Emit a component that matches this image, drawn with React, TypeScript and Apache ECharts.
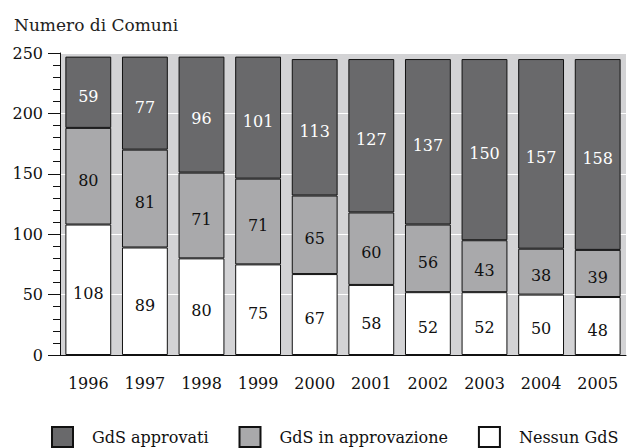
import React, { useEffect, useRef } from "react";
import * as echarts from "echarts";

const years = ["1996", "1997", "1998", "1999", "2000", "2001", "2002", "2003", "2004", "2005"];
const approvati = [59, 77, 96, 101, 113, 127, 137, 150, 157, 158];
const inApprovazione = [80, 81, 71, 71, 65, 60, 56, 43, 38, 39];
const nessun = [108, 89, 80, 75, 67, 58, 52, 52, 50, 48];
const seriesNames = ["GdS approvati", "GdS in approvazione", "Nessun GdS"];
const yTitle = "Numero di Comuni";

const FONT = "DejaVu Serif";

export default function App() {
  const ref = useRef<HTMLDivElement>(null);
  useEffect(() => {
    if (!ref.current) return;
    const chart = echarts.init(ref.current, undefined, { renderer: "svg" });
    const barBase = {
      type: "bar" as const,
      stack: "total",
      barWidth: "81%",
      label: {
        show: true,
        position: "inside" as const,
        fontSize: 16,
        fontFamily: FONT,
        color: "#111",
        offset: [0, 4],
      },
    };
    chart.setOption({
      animation: false,
      backgroundColor: "#ffffff",
      textStyle: { fontFamily: FONT },
      title: {
        text: yTitle,
        left: 9,
        top: 11,
        textStyle: { fontSize: 17, fontWeight: "normal", color: "#222", fontFamily: FONT },
      },
      legend: {
        data: seriesNames,
        left: 46,
        top: 421,
        width: 580,
        itemWidth: 21,
        itemHeight: 20,
        itemGap: 30,
        icon: "rect",
        textStyle: {
          fontSize: 16,
          fontFamily: FONT,
          color: "#111",
          padding: [0, 0, 0, 14],
        },
      },
      grid: {
        left: 60,
        right: 2,
        top: 53,
        bottom: 93,
        show: true,
        backgroundColor: "#d3d3d5",
        borderWidth: 0,
      },
      xAxis: {
        type: "category",
        data: years,
        axisLine: { show: true, lineStyle: { color: "#111", width: 1 } },
        axisTick: { show: false },
        axisLabel: { interval: 0, fontSize: 16, fontFamily: FONT, color: "#111", margin: 20 },
      },
      yAxis: {
        type: "value",
        min: 0,
        max: 250,
        interval: 50,
        axisLine: { show: true, lineStyle: { color: "#111", width: 1 } },
        axisTick: { show: true, length: 12, lineStyle: { color: "#111" } },
        minorTick: { show: true, splitNumber: 5, length: 7, lineStyle: { color: "#111" } },
        splitLine: { show: true, lineStyle: { color: "#ffffff", width: 1 } },
        axisLabel: { fontSize: 16, fontFamily: FONT, color: "#111", margin: 17 },
      },
      series: [
        {
          ...barBase,
          name: seriesNames[2],
          data: nessun,
          itemStyle: { color: "#ffffff", borderColor: "#111", borderWidth: 1 },
        },
        {
          ...barBase,
          name: seriesNames[1],
          data: inApprovazione,
          itemStyle: { color: "#a9a9ab", borderColor: "#111", borderWidth: 1 },
        },
        {
          ...barBase,
          name: seriesNames[0],
          data: approvati,
          itemStyle: { color: "#69696b", borderColor: "#111", borderWidth: 1 },
          label: { ...barBase.label, color: "#ffffff" },
        },
      ],
    });
    return () => chart.dispose();
  }, []);
  return (
    <div
      ref={ref}
      style={{ position: "fixed", left: 0, top: 0, width: 628, height: 448 }}
    />
  );
}
